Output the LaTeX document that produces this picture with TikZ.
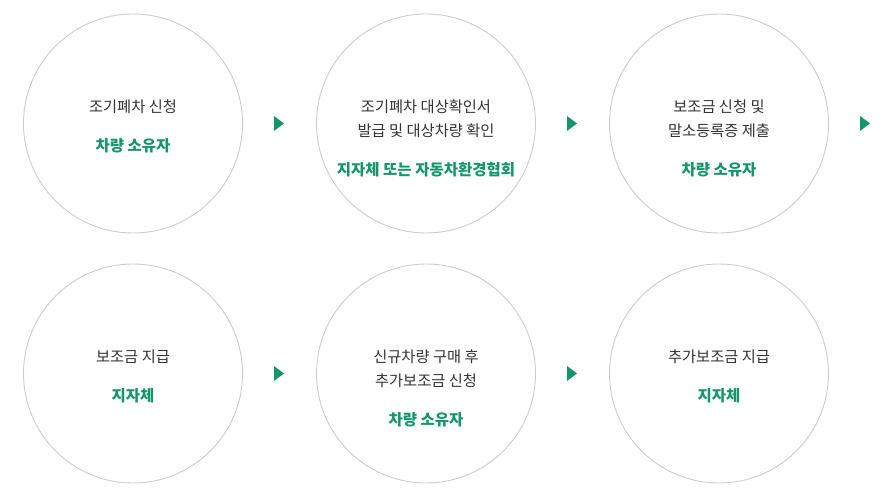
\documentclass[tikz,border=0pt]{standalone}
\usepackage{fontspec}
\newfontfamily\kr{Noto Sans CJK KR}
\definecolor{ring}{HTML}{CCCCCC}
\definecolor{grn}{HTML}{14956A}
\definecolor{txt}{HTML}{333333}
\begin{document}
\begin{tikzpicture}[x=1pt,y=-1pt,
  stepcircle/.style={draw=ring,line width=0.9pt,circle,minimum size=219pt,inner sep=0pt},
  main/.style={font=\kr\fontsize{15.3}{24}\selectfont,text=txt,align=center,anchor=center},
  who/.style={font=\kr\bfseries\fontsize{15.5}{24}\selectfont,text=grn,anchor=center},
  tri/.style={fill=grn}]
\useasboundingbox (0,0) rectangle (889,500);
% row 1
\node[stepcircle] (c1) at (133,123.5) {};
\node[stepcircle] (c2) at (426,123.5) {};
\node[stepcircle] (c3) at (719,123.5) {};
% row 2
\node[stepcircle] (c4) at (133,373.5) {};
\node[stepcircle] (c5) at (426,373.5) {};
\node[stepcircle] (c6) at (719,373.5) {};
% texts
\node[main] (t1) at (133,107) {조기폐차 신청};
\node[who] (w1) at (133,146) {차량 소유자};
\node[main] (t2) at (426,119) {조기폐차 대상확인서\\발급 및 대상차량 확인};
\node[who] (w2) at (426,170) {지자체 또는 자동차환경협회};
\node[main] (t3) at (719,119) {보조금 신청 및\\말소등록증 제출};
\node[who] (w3) at (719,170) {차량 소유자};
\node[main] (t4) at (133,357) {보조금 지급};
\node[who] (w4) at (133,396) {지자체};
\node[main] (t5) at (426,369) {신규차량 구매 후\\추가보조금 신청};
\node[who] (w5) at (426,420) {차량 소유자};
\node[main] (t6) at (719,357) {추가보조금 지급};
\node[who] (w6) at (719,396) {지자체};
% arrows
\foreach \x/\y in {279/123.5,572/123.5,865/123.5,279/373.5,572/373.5}{
  \fill[tri] (\x-5,\y-7.5) -- (\x+5,\y) -- (\x-5,\y+7.5) -- cycle;
}
\end{tikzpicture}
\end{document}
